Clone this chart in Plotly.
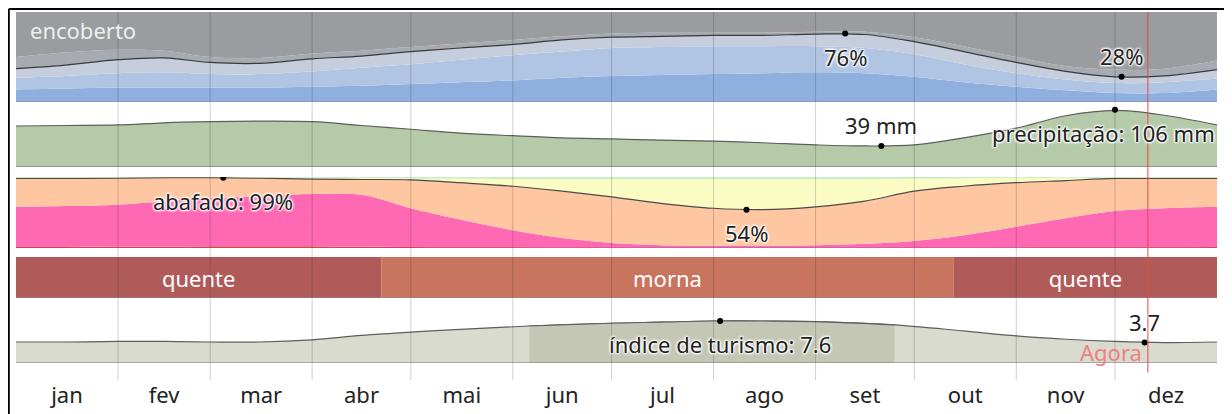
import numpy as np
import plotly.graph_objects as go

# --- data ---
months = ["jan", "fev", "mar", "abr", "mai", "jun", "jul", "ago", "set", "out", "nov", "dez"]
month_len = [31, 28, 31, 30, 31, 30, 31, 31, 30, 31, 30, 31]

days = [0, 15, 31, 45, 59, 74, 90, 105, 120, 135, 151, 166, 181, 196, 212, 227, 243, 258, 273, 288, 304, 319, 334, 349, 365]

# cloud cover, cumulative % from the bottom
cloud_clear = [14, 15, 16, 16, 16, 16, 17, 18, 20, 22, 24, 27, 29, 30, 31, 32, 33, 32, 28, 22, 17, 13, 10, 10, 14]
cloud_mostly_clear = [27, 29, 32, 33, 31, 31, 34, 38, 42, 47, 52, 56, 60, 61, 62, 62, 62, 60, 53, 42, 32, 25, 21, 22, 26]
cloud_partly = [37, 41, 47, 49, 44, 43, 48, 51, 56, 60, 64, 69, 72, 73, 74, 74, 75.5, 75, 67, 56, 44, 34, 28, 29, 36]
cloud_mostly_cloudy = [50, 55, 58, 57, 50, 49, 54, 57, 61, 65, 69, 73, 76, 77, 77, 77, 78, 78, 72, 62, 50, 40, 36, 37, 46]
cloud_total = [100] * len(days)

# precipitation (mm)
precip = [76, 77, 78, 82, 84, 85, 84, 77, 70, 63, 58, 54, 52, 50, 48, 45, 41, 39, 41, 54, 72, 95, 105, 96, 78]

# humidity comfort, cumulative % from the bottom
hum_miserable = [1.5, 1.5, 2, 2, 2.5, 2.5, 2.5, 2, 1.5, 1, 1, 0.5, 0.5, 0.5, 0.5, 0.5, 0.5, 0.5, 0.5, 0.5, 0.8, 1, 1, 1.2, 1.5]
hum_oppressive = [58, 59, 61, 66, 70, 73, 76, 75, 56, 40, 25, 14, 7, 4, 3, 3, 4, 6, 10, 18, 30, 42, 52, 56, 58]
hum_muggy = [98, 98, 98.5, 99, 99, 98.5, 97, 96.5, 96, 92, 87, 80, 72, 63, 56, 54, 58, 66, 80, 87, 92, 95, 98, 98, 98]
hum_comfortable = [99, 99, 99.3, 99.5, 99.5, 99.3, 99, 98.5, 98, 97.5, 97, 97, 97, 97, 97, 97, 97, 97, 97.5, 98, 98.5, 99, 99, 99, 99]
hum_total = [100] * len(days)

# temperature classes
temp_labels = ["quente", "morna", "quente"]
temp_start = [0, 111, 285]
temp_end = [111, 285, 365]
temp_colors = ["#b05b59", "#c8745f", "#b05b59"]

# tourism score
tour_days = [0, 15, 31, 45, 59, 74, 90, 105, 120, 135, 156, 181, 196, 212, 227, 243, 267, 288, 304, 319, 334, 349, 365]
tourism = [3.8, 3.8, 3.9, 3.9, 3.8, 3.8, 4.2, 5.0, 5.6, 6.1, 6.7, 7.2, 7.4, 7.6, 7.6, 7.5, 6.9, 5.8, 4.9, 4.3, 3.9, 3.7, 3.8]
best_start, best_end = 156, 267

# highlighted points
cloud_marks = [(252, 76, "76%", "top"), (336, 28, "28%", "bottom")]
precip_marks = [(263, 39, "39 mm", "bottom"), (334, 106, "precipitação: 106 mm", "top")]
hum_marks = [(63, 99, "abafado: 99%", "top"), (222, 54, "54%", "top")]
tour_marks = [(214, 7.6, "índice de turismo: 7.6", "top"), (343, 3.7, "3.7", "bottom")]
now_day = 344

FONT = "Noto Sans"
FS = 22
month_start = np.concatenate([[0], np.cumsum(month_len)[:-1]])
month_mid = month_start + np.array(month_len) / 2

fig = go.Figure()


def area(x, y, color, yaxis, fill, line_color=None, line_width=0):
    fig.add_trace(go.Scatter(
        x=x, y=y, mode="lines", yaxis=yaxis, fill=fill, fillcolor=color,
        line=dict(color=line_color or color, width=line_width, shape="spline", smoothing=1),
        hoverinfo="skip"))


# cloud
area(days, cloud_clear, "#8fb0de", "y", "tozeroy")
area(days, cloud_mostly_clear, "#b0c5e3", "y", "tonexty")
area(days, cloud_partly, "#c6cedd", "y", "tonexty", "#3a3a3a", 1.2)
area(days, cloud_mostly_cloudy, "#a7aab1", "y", "tonexty")
area(days, cloud_total, "#9a9ca0", "y", "tonexty")

# precipitation
area(days, precip, "#b4caa9", "y2", "tozeroy", "#5a5f5a", 1.2)

# humidity
area(days, hum_miserable, "#e0503c", "y3", "tozeroy")
area(days, hum_oppressive, "#ff68b2", "y3", "tonexty")
area(days, hum_muggy, "#ffc6a2", "y3", "tonexty", "#4a4a4a", 1.2)
area(days, hum_comfortable, "#fbfbc4", "y3", "tonexty")
area(days, hum_total, "#cdeec4", "y3", "tonexty")

# temperature bands
fig.add_trace(go.Bar(
    y=[0] * len(temp_labels), x=np.array(temp_end) - np.array(temp_start), base=temp_start,
    orientation="h", yaxis="y4", width=1, marker=dict(color=temp_colors, line=dict(width=0)),
    text=temp_labels, textposition="inside", insidetextanchor="middle", textangle=0,
    textfont=dict(color="white", size=FS, family=FONT), hoverinfo="skip"))

# tourism
area(tour_days, tourism, "#d9dbcf", "y5", "tozeroy", "#5a5f5a", 1.2)
i0, i1 = tour_days.index(best_start), tour_days.index(best_end)
area(tour_days[i0:i1 + 1], tourism[i0:i1 + 1], "#c4c7b3", "y5", "tozeroy", "#5a5f5a", 1.2)

# dots + labels
annotations = []
shadow = "1px 1px 2px white, -1px -1px 2px white, 1px -1px 2px white, -1px 1px 2px white"
for marks, ax in [(cloud_marks, "y"), (precip_marks, "y2"), (hum_marks, "y3"), (tour_marks, "y5")]:
    fig.add_trace(go.Scatter(x=[m[0] for m in marks], y=[m[1] for m in marks], yaxis=ax,
                             mode="markers", marker=dict(color="black", size=6), hoverinfo="skip"))
    for d, v, t, pos in marks:
        xs = -12 if t.startswith("precip") else 0
        annotations.append(dict(
            x=d, y=v, xref="x", yref=ax, text=t, showarrow=False, xshift=xs,
            yanchor=pos, yshift=(-6 if pos == "top" else 4),
            font=dict(family=FONT, size=FS, color="#222", shadow=shadow)))

annotations.append(dict(x=0.01, y=0.952, xref="paper", yref="paper", text="encoberto", showarrow=False,
                        xanchor="left", yanchor="middle", font=dict(family=FONT, size=FS, color="#eeeeee")))
annotations.append(dict(x=now_day, y=2, xref="x", yref="y5", text="Agora", showarrow=False,
                        xanchor="right", yanchor="middle", xshift=-4,
                        font=dict(family=FONT, size=FS, color="#f08080")))

shapes = []
for s in month_start[1:]:
    shapes.append(dict(type="line", xref="x", yref="paper", x0=s, x1=s, y0=0, y1=1,
                       line=dict(color="rgba(40,40,40,0.22)", width=1), layer="above"))
for ax, base, col in [("y", 0, "#7d8899"), ("y2", 0, "#666"), ("y3", 0, "#b04080"),
                      ("y4", -0.5, "#888"), ("y5", 0, "#777")]:
    shapes.append(dict(type="line", xref="paper", yref=ax, x0=0, x1=1, y0=base, y1=base,
                       line=dict(color=col, width=1.2), layer="above"))
shapes.append(dict(type="line", xref="x", yref="paper", x0=now_day, x1=now_day, y0=0.02, y1=1,
                   line=dict(color="#e8474a", width=1), layer="above"))
# outer frame (top + left)
shapes.append(dict(type="line", xref="paper", yref="paper", x0=-0.006, x1=1.02, y0=1.008, y1=1.008,
                   line=dict(color="black", width=2)))
shapes.append(dict(type="line", xref="paper", yref="paper", x0=-0.006, x1=-0.006, y0=-0.1, y1=1.008,
                   line=dict(color="black", width=2)))

hidden = dict(visible=False, fixedrange=True)
fig.update_layout(
    width=1224, height=406, margin=dict(l=8, r=15, t=4, b=34),
    paper_bgcolor="white", plot_bgcolor="white", showlegend=False, barmode="overlay",
    xaxis=dict(range=[0, 365], tickvals=month_mid, ticktext=months, showgrid=False, zeroline=False,
               ticks="", showline=False, anchor="free", position=0, fixedrange=True,
               tickfont=dict(family=FONT, size=FS, color="#222")),
    yaxis=dict(domain=[0.7554, 1.0], range=[0, 100], **hidden),
    yaxis2=dict(domain=[0.5788, 0.7473], range=[0, 115], anchor="x", **hidden),
    yaxis3=dict(domain=[0.3587, 0.5516], range=[0, 100], anchor="x", **hidden),
    yaxis4=dict(domain=[0.2228, 0.3342], range=[-0.5, 0.5], anchor="x", **hidden),
    yaxis5=dict(domain=[0.0462, 0.2038], range=[0, 10.5], anchor="x", **hidden),
    annotations=annotations, shapes=shapes,
)

fig.write_html("out.html")
